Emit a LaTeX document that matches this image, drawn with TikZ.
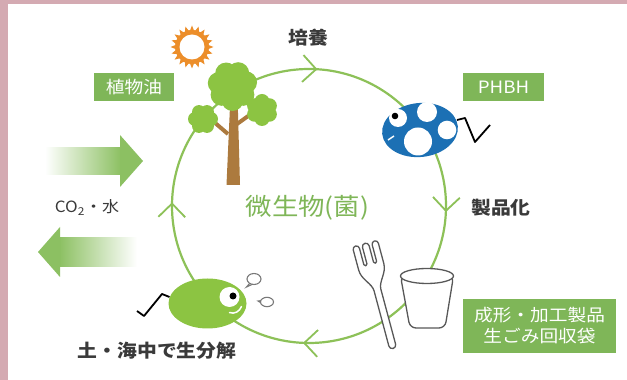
\documentclass[tikz,border=0pt]{standalone}
\usepackage{fontspec}
\newfontfamily\jp[FakeStretch=1.1]{Noto Sans CJK JP}

\definecolor{mauve}{RGB}{212,170,178}
\definecolor{ringgreen}{RGB}{141,193,88}
\definecolor{boxgreen}{RGB}{127,182,88}
\definecolor{arrowgreen}{RGB}{140,192,98}
\definecolor{leafgreen}{RGB}{140,196,66}
\definecolor{trunkbrown}{RGB}{172,122,62}
\definecolor{sunorange}{RGB}{236,142,42}
\definecolor{bugblue}{RGB}{28,112,180}
\definecolor{inkgray}{RGB}{58,58,58}
\definecolor{waregray}{RGB}{88,88,88}

\tikzset{
  ring/.style={draw=ringgreen, line width=2.2},
  darktext/.style={font=\jp\bfseries\fontsize{18}{21}\selectfont, text=inkgray},
  greenbox/.style={fill=boxgreen, text=white, inner sep=0,
    font=\jp\fontsize{17}{21}\selectfont},
  ware/.style={draw=waregray, fill=white, line width=1.3, line join=round},
  bubble/.style={draw=waregray!80, fill=white, line width=1.1},
  tail/.style={black, line width=1.8, line join=round}
}

\begin{document}
\begin{tikzpicture}[x=1pt,y=1pt]
	% backdrop
	\fill[mauve] (0,0) rectangle (627,380);
	\fill[white] (8,0) rectangle (627,376);
	\useasboundingbox (0,0) rectangle (627,380);

	% CO2 / water arrows
	\shade[left color=white, right color=arrowgreen] (45,205) rectangle (121,232);
	\fill[arrowgreen] (120,193) -- (143,219) -- (120,245) -- cycle;
	\shade[left color=arrowgreen, right color=white] (59,113) rectangle (137,142);
	\fill[arrowgreen] (60,103) -- (38,128) -- (60,153) -- cycle;

	% cycle
	\begin{scope}[shift={(309,174)}]
		\draw[ring] (0,0) circle (137);
		\foreach \a in {87,-2,-92,179}
			\draw[ring, line width=1.8] (\a:137) -- ++(\a+45:19) (\a:137) -- ++(\a+135:19);
	\end{scope}

	% tree
	\fill[trunkbrown] (226.5,195) -- (240,195) -- (237.5,285) -- (230.5,285) -- cycle;
	\draw[trunkbrown, line width=4] (228,246) -- (214,258);
	\draw[trunkbrown, line width=4] (237,256) -- (251,266);
	\fill[leafgreen] (232.5,294) circle (15);
	\foreach \t in {15,66,...,321}
		\fill[leafgreen] (232.5,294) ++(\t:14) circle (11);
	\fill[leafgreen] (203,261) circle (9);
	\foreach \t in {0,60,...,300}
		\fill[leafgreen] (203,261) ++(\t:8) circle (7);
	\fill[leafgreen] (262,270) circle (9.5);
	\foreach \t in {30,90,...,330}
		\fill[leafgreen] (262,270) ++(\t:8.5) circle (7.5);

	% sun
	\begin{scope}[shift={(192,333)}]
		\foreach \t in {0,18,...,342}
			\fill[sunorange] (\t-8:16) -- (\t:21.5) -- (\t+8:16) -- cycle;
		\fill[sunorange] (0,0) circle (17);
		\fill[white] (0,0) circle (12.5);
	\end{scope}

	% PHBH bug
	\begin{scope}[shift={(420,250)}]
		\draw[tail] (37,10) -- (45,12) -- (55,-12) -- (70,5);
		\fill[bugblue, rotate=6] (0,0) ellipse (38 and 27);
		\fill[white] (7,18) circle (10) (27,0) circle (9.3) (-2,-11.5) circle (14) (-22,12) circle (9);
		\fill[black] (-25,14) circle (3.3);
		\draw[white, line width=1.5] (-32,-10) -- (-26,-6);
	\end{scope}

	% soil bug
	\begin{scope}[shift={(207.5,76.5)}]
		\draw[tail] (-38,6.5) -- (-45.5,9.5) -- (-63.5,-12.5) -- (-70.5,-7.5);
		\fill[leafgreen] (0,0) ellipse (39 and 25);
		\fill[white] (22,6.5) circle (10);
		\fill[black] (25.5,7.5) circle (3.5);
		\draw[white, line width=1.5, line cap=round] (22,-9) .. controls (27,-11) and (32,-8) .. (34,-3);
	\end{scope}
	\draw[bubble] (250,97) -- (246.5,93) -- (253,96);
	\draw[bubble] (254,101) ellipse (7 and 5.5);
	\draw[bubble] (262,79.5) -- (258,79) -- (262,76.5);
	\draw[bubble] (267,78) ellipse (6.5 and 4.7);

	% fork
	\begin{scope}[shift={(393,32)}, rotate=15]
		\draw[ware] (-3.5,60) -- (-3.5,3) arc (180:360:3.5) -- (3.5,60)
			.. controls (3.5,68) and (13,74) .. (13,84) -- (13,105) arc (0:180:3.2)
			-- (6.6,88) arc (0:-180:1.6) -- (3.4,105) arc (0:180:3.4)
			-- (-3.4,88) arc (0:-180:1.6) -- (-6.6,105) arc (0:180:3.2)
			-- (-13,84) .. controls (-13,74) and (-3.5,68) .. (-3.5,60) -- cycle;
	\end{scope}

	% cup
	\draw[ware, rounded corners=6] (400.5,104) -- (410,52) -- (445,52) -- (453.5,104) -- cycle;
	\draw[ware] (427,104) ellipse (26.5 and 7.5);

	% labels
	\node[greenbox, minimum width=80, minimum height=28] (oil) at (134,293) {植物油};
	\node[greenbox, minimum width=81, minimum height=28] (phbh) at (503.5,293) {PHBH};
	\node[greenbox, minimum width=153, minimum height=54, align=center] (goods) at (539.5,54)
		{成形・加工製品\\生ごみ回収袋};
	\node[darktext] (culture) at (308,342) {培養};
	\node[darktext] (product) at (501,172.5) {製品化};
	\node[darktext] (degrade) at (157,29) {土・海中で生分解};
	\node[font=\jp\fontsize{15.5}{18}\selectfont, text=inkgray] (co2) at (87,172.5) {CO\textsubscript{2}・水};
	\node[font=\jp\fontsize{24}{27}\selectfont, text=boxgreen] (microbe) at (307.5,172.5) {微生物(菌)};
\end{tikzpicture}
\end{document}
